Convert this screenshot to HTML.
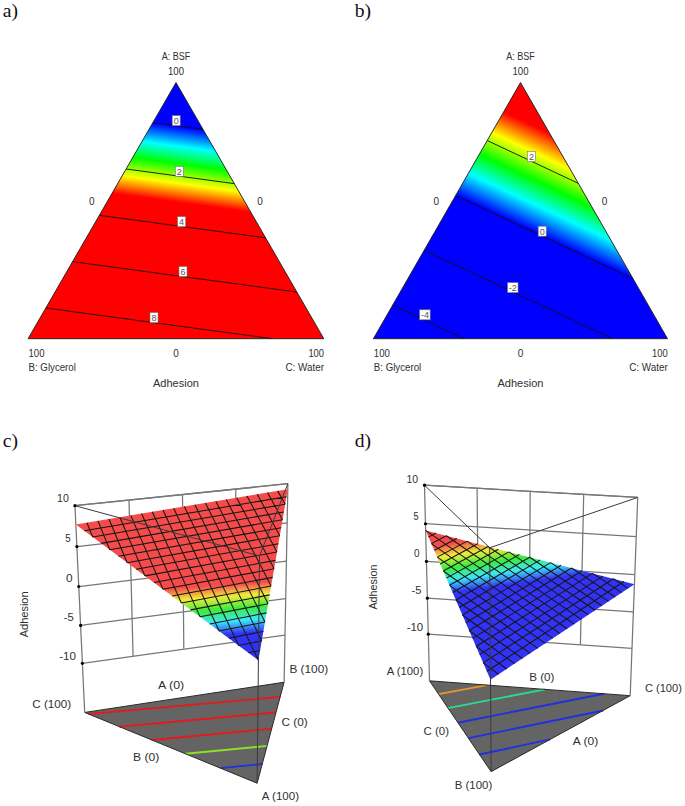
<!DOCTYPE html>
<html><head><meta charset="utf-8"><style>
html,body{margin:0;padding:0;background:#fff;}
svg{display:block;}
text{font-family:"Liberation Sans",sans-serif;fill:#303030;}
.lb{fill:#555;}
.ser{font-family:"Liberation Serif",serif;fill:#111;}
</style></head><body>
<svg width="685" height="806" viewBox="0 0 685 806">
<defs>
<linearGradient id="ga" gradientUnits="userSpaceOnUse" x1="170.18" y1="125.48" x2="160.1" y2="199.81"><stop offset="0" stop-color="#0000ff"/><stop offset="0.26" stop-color="#00ffff"/><stop offset="0.49" stop-color="#00ff00"/><stop offset="0.75" stop-color="#ffff00"/><stop offset="1" stop-color="#ff0000"/></linearGradient>
<linearGradient id="gb" gradientUnits="userSpaceOnUse" x1="465.6" y1="199.37" x2="506.25" y2="112.9"><stop offset="0" stop-color="#0000ff"/><stop offset="0.26" stop-color="#00ffff"/><stop offset="0.49" stop-color="#00ff00"/><stop offset="0.75" stop-color="#ffff00"/><stop offset="1" stop-color="#ff0000"/></linearGradient>
<linearGradient id="gc" gradientUnits="userSpaceOnUse" x1="256.36" y1="632.26" x2="252.68" y2="582.56"><stop offset="0" stop-color="#3232f5"/><stop offset="0.26" stop-color="#3ce8f5"/><stop offset="0.51" stop-color="#3ceb3c"/><stop offset="0.76" stop-color="#f0eb3c"/><stop offset="1" stop-color="#f54b4b"/></linearGradient>
<linearGradient id="gd" gradientUnits="userSpaceOnUse" x1="435" y1="595.27" x2="428.02" y2="546.9"><stop offset="0" stop-color="#3232f5"/><stop offset="0.26" stop-color="#3ce8f5"/><stop offset="0.51" stop-color="#3ceb3c"/><stop offset="0.76" stop-color="#f0eb3c"/><stop offset="1" stop-color="#f54b4b"/></linearGradient>
</defs>
<rect width="685" height="806" fill="#fff"/>
<polygon points="176,82.6 28.1,338.7 323.8,338.7" fill="url(#ga)"/>
<line x1="152.88" y1="122.63" x2="203.03" y2="129.43" stroke="#111" stroke-width="0.9"/>
<line x1="126.12" y1="168.97" x2="234.31" y2="183.64" stroke="#111" stroke-width="0.9"/>
<line x1="99.36" y1="215.31" x2="265.6" y2="237.86" stroke="#111" stroke-width="0.9"/>
<line x1="72.6" y1="261.64" x2="296.89" y2="292.07" stroke="#111" stroke-width="0.9"/>
<line x1="45.84" y1="307.98" x2="272.29" y2="338.7" stroke="#111" stroke-width="0.9"/>
<polygon points="176,82.6 28.1,338.7 323.8,338.7" fill="none" stroke="#222" stroke-width="0.95" stroke-linejoin="miter"/>
<rect x="172.2" y="115.6" width="8" height="10" fill="#fff" stroke="#777" stroke-width="0.6"/>
<text x="176.2" y="124" font-size="9" text-anchor="middle" class="lb">0</text>
<rect x="175.3" y="166.4" width="8" height="10" fill="#fff" stroke="#777" stroke-width="0.6"/>
<text x="179.3" y="174.8" font-size="9" text-anchor="middle" class="lb">2</text>
<rect x="177.6" y="216.7" width="8" height="10" fill="#fff" stroke="#777" stroke-width="0.6"/>
<text x="181.6" y="225.1" font-size="9" text-anchor="middle" class="lb">4</text>
<rect x="179" y="266.5" width="8" height="10" fill="#fff" stroke="#777" stroke-width="0.6"/>
<text x="183" y="274.9" font-size="9" text-anchor="middle" class="lb">6</text>
<rect x="150" y="312.6" width="8" height="10" fill="#fff" stroke="#777" stroke-width="0.6"/>
<text x="154" y="321" font-size="9" text-anchor="middle" class="lb">8</text>
<polygon points="520.5,82.6 373.4,338.7 667.5,338.7" fill="url(#gb)"/>
<line x1="487.22" y1="140.54" x2="578.36" y2="183.39" stroke="#111" stroke-width="0.9"/>
<line x1="455.7" y1="195.41" x2="633.14" y2="278.84" stroke="#111" stroke-width="0.9"/>
<line x1="424.19" y1="250.28" x2="612.24" y2="338.7" stroke="#111" stroke-width="0.9"/>
<line x1="392.67" y1="305.15" x2="464.03" y2="338.7" stroke="#111" stroke-width="0.9"/>
<polygon points="520.5,82.6 373.4,338.7 667.5,338.7" fill="none" stroke="#222" stroke-width="0.95" stroke-linejoin="miter"/>
<rect x="527.4" y="151.5" width="8" height="10" fill="#fff" stroke="#777" stroke-width="0.6"/>
<text x="531.4" y="159.9" font-size="9" text-anchor="middle" class="lb">2</text>
<rect x="538.2" y="226.2" width="8" height="10" fill="#fff" stroke="#777" stroke-width="0.6"/>
<text x="542.2" y="234.6" font-size="9" text-anchor="middle" class="lb">0</text>
<rect x="507.55" y="282.6" width="10.5" height="10" fill="#fff" stroke="#777" stroke-width="0.6"/>
<text x="512.8" y="291" font-size="9" text-anchor="middle" class="lb">-2</text>
<rect x="419.65" y="309.8" width="10.5" height="10" fill="#fff" stroke="#777" stroke-width="0.6"/>
<text x="424.9" y="318.2" font-size="9" text-anchor="middle" class="lb">-4</text>
<text x="176" y="59.6" font-size="10" text-anchor="middle" textLength="28.6" lengthAdjust="spacingAndGlyphs" >A: BSF</text>
<text x="176" y="74.8" font-size="10" text-anchor="middle" textLength="16" lengthAdjust="spacingAndGlyphs" >100</text>
<text x="91.85" y="205.3" font-size="10" text-anchor="middle" >0</text>
<text x="260.15" y="205.3" font-size="10" text-anchor="middle" >0</text>
<text x="28.5" y="357.2" font-size="10" text-anchor="start" textLength="16" lengthAdjust="spacingAndGlyphs" >100</text>
<text x="28.5" y="371" font-size="10" text-anchor="start" textLength="47.4" lengthAdjust="spacingAndGlyphs" >B: Glycerol</text>
<text x="176" y="357.3" font-size="10" text-anchor="middle" >0</text>
<text x="324" y="357.2" font-size="10" text-anchor="end" textLength="15.6" lengthAdjust="spacingAndGlyphs" >100</text>
<text x="324" y="371.3" font-size="10" text-anchor="end" textLength="38.5" lengthAdjust="spacingAndGlyphs" >C: Water</text>
<text x="176" y="387" font-size="11.5" text-anchor="middle" textLength="46" lengthAdjust="spacingAndGlyphs" >Adhesion</text>
<text x="520.5" y="59.6" font-size="10" text-anchor="middle" textLength="28.6" lengthAdjust="spacingAndGlyphs" >A: BSF</text>
<text x="520.5" y="74.8" font-size="10" text-anchor="middle" textLength="16" lengthAdjust="spacingAndGlyphs" >100</text>
<text x="436.35" y="205.3" font-size="10" text-anchor="middle" >0</text>
<text x="604.65" y="205.3" font-size="10" text-anchor="middle" >0</text>
<text x="373.8" y="357.2" font-size="10" text-anchor="start" textLength="16" lengthAdjust="spacingAndGlyphs" >100</text>
<text x="373.8" y="371" font-size="10" text-anchor="start" textLength="47.4" lengthAdjust="spacingAndGlyphs" >B: Glycerol</text>
<text x="520.5" y="357.3" font-size="10" text-anchor="middle" >0</text>
<text x="667.7" y="357.2" font-size="10" text-anchor="end" textLength="15.6" lengthAdjust="spacingAndGlyphs" >100</text>
<text x="667.7" y="371.3" font-size="10" text-anchor="end" textLength="38.5" lengthAdjust="spacingAndGlyphs" >C: Water</text>
<text x="520.5" y="387" font-size="11.5" text-anchor="middle" textLength="46" lengthAdjust="spacingAndGlyphs" >Adhesion</text>
<text x="2.8" y="16.6" font-size="19.6" class="ser">a)</text>
<text x="354.8" y="16.6" font-size="19.6" class="ser">b)</text>
<text x="2.8" y="446.6" font-size="19.6" class="ser">c)</text>
<text x="354.8" y="446.6" font-size="19.6" class="ser">d)</text>
<polygon points="257.12,783.21 284.09,682.23 84.7,712.43" fill="#646464" stroke="none" stroke-width="0"/>
<line x1="262.24" y1="764.05" x2="220.42" y2="768.14" stroke="#2030e0" stroke-width="1.9"/>
<line x1="267.08" y1="745.92" x2="185.33" y2="753.74" stroke="#8ee028" stroke-width="1.9"/>
<line x1="271.67" y1="728.74" x2="151.72" y2="739.94" stroke="#e01c1c" stroke-width="1.9"/>
<line x1="276.02" y1="712.45" x2="119.52" y2="726.72" stroke="#e01c1c" stroke-width="1.9"/>
<line x1="280.16" y1="696.96" x2="88.64" y2="714.04" stroke="#e01c1c" stroke-width="1.9"/>
<polygon points="257.12,783.21 284.09,682.23 84.7,712.43" fill="none" stroke="#2a2a2a" stroke-width="1.0"/>
<line x1="74.95" y1="505.66" x2="287.9" y2="483.71" stroke="#777" stroke-width="1.25"/>
<line x1="76.88" y1="546.6" x2="287.15" y2="522.91" stroke="#777" stroke-width="1.25"/>
<line x1="78.76" y1="586.51" x2="286.41" y2="561.18" stroke="#777" stroke-width="1.25"/>
<line x1="80.6" y1="625.42" x2="285.7" y2="598.53" stroke="#777" stroke-width="1.25"/>
<line x1="82.39" y1="663.37" x2="285" y2="635.02" stroke="#777" stroke-width="1.25"/>
<line x1="129" y1="500.2" x2="133.1" y2="656.4" stroke="#777" stroke-width="1.25"/>
<line x1="182.5" y1="494.9" x2="183.8" y2="648.8" stroke="#777" stroke-width="1.25"/>
<line x1="235.8" y1="489.4" x2="234.4" y2="641.8" stroke="#777" stroke-width="1.25"/>
<line x1="284.09" y1="682.23" x2="287.9" y2="483.71" stroke="#777" stroke-width="1.25"/>
<line x1="84.7" y1="712.43" x2="74.95" y2="505.66" stroke="#777" stroke-width="1.25"/>
<line x1="74.95" y1="505.66" x2="287.9" y2="483.71" stroke="#777" stroke-width="1.25"/>
<polygon points="258.42,660.18 287.79,489.17 75.84,524.54" fill="url(#gc)" stroke="none" stroke-width="0"/>
<path d="M286.5,496.68L84.22,530.76 M285.2,504.28L92.66,537.04 M283.88,511.97L101.18,543.37 M282.54,519.77L109.78,549.75 M281.18,527.68L118.45,556.2 M279.8,535.69L127.2,562.7 M278.41,543.8L136.03,569.25 M277,552.03L144.94,575.87 M275.57,560.37L153.92,582.55 M274.11,568.82L162.99,589.28 M272.64,577.39L172.15,596.08 M271.15,586.07L181.38,602.94 M269.64,594.88L190.7,609.87 M268.1,603.82L200.11,616.85 M266.55,612.88L209.6,623.91 M264.97,622.07L219.18,631.03 M263.37,631.39L228.86,638.21 M261.74,640.84L238.62,645.46 M260.1,650.44L248.47,652.78 M277.65,490.87L285.2,504.28 M267.47,492.57L282.54,519.77 M257.23,494.27L279.8,535.69 M246.96,495.99L277,552.03 M236.63,497.71L274.11,568.82 M226.26,499.44L271.15,586.07 M215.83,501.18L268.1,603.82 M205.36,502.93L264.97,622.07 M194.85,504.68L261.74,640.84 M184.28,506.45L258.42,660.18 M173.66,508.22L238.62,645.46 M163,510L219.18,631.03 M152.28,511.79L200.11,616.85 M141.52,513.58L181.38,602.94 M130.7,515.39L162.99,589.28 M119.83,517.2L144.94,575.87 M108.91,519.03L127.2,562.7 M97.94,520.86L109.78,549.75 M86.92,522.7L92.66,537.04" stroke="#161616" stroke-width="1.05" fill="none"/>
<line x1="257.12" y1="783.21" x2="259.53" y2="555.94" stroke="#3a3a3a" stroke-width="1.0"/>
<line x1="74.95" y1="505.66" x2="259.53" y2="555.94" stroke="#3a3a3a" stroke-width="1.0"/>
<line x1="287.9" y1="483.71" x2="259.53" y2="555.94" stroke="#3a3a3a" stroke-width="1.0"/>
<circle cx="74.95" cy="505.66" r="1.6" fill="#000"/>
<circle cx="76.88" cy="546.6" r="1.6" fill="#000"/>
<circle cx="78.76" cy="586.51" r="1.6" fill="#000"/>
<circle cx="80.6" cy="625.42" r="1.6" fill="#000"/>
<circle cx="82.39" cy="663.37" r="1.6" fill="#000"/>
<polygon points="429.5,680.81 491.11,771.63 630.2,695.68" fill="#646464" stroke="none" stroke-width="0"/>
<line x1="479.45" y1="754.46" x2="550.14" y2="739.4" stroke="#2030e0" stroke-width="1.9"/>
<line x1="468.41" y1="738.18" x2="603.1" y2="710.48" stroke="#2030e0" stroke-width="1.9"/>
<line x1="457.94" y1="722.74" x2="603.89" y2="693.73" stroke="#2030e0" stroke-width="1.9"/>
<line x1="447.98" y1="708.07" x2="545.19" y2="689.38" stroke="#28dc90" stroke-width="1.9"/>
<line x1="438.52" y1="694.11" x2="487.06" y2="685.08" stroke="#eb9628" stroke-width="1.9"/>
<polygon points="429.5,680.81 491.11,771.63 630.2,695.68" fill="none" stroke="#2a2a2a" stroke-width="1.0"/>
<line x1="424.48" y1="485.21" x2="637.73" y2="497.46" stroke="#777" stroke-width="1.25"/>
<line x1="425.47" y1="523.73" x2="636.25" y2="536.53" stroke="#777" stroke-width="1.25"/>
<line x1="426.43" y1="561.38" x2="634.8" y2="574.7" stroke="#777" stroke-width="1.25"/>
<line x1="427.38" y1="598.18" x2="633.38" y2="611.99" stroke="#777" stroke-width="1.25"/>
<line x1="428.3" y1="634.17" x2="632" y2="648.45" stroke="#777" stroke-width="1.25"/>
<line x1="478.57" y1="637.69" x2="477.08" y2="488.23" stroke="#777" stroke-width="1.25"/>
<line x1="529.27" y1="641.25" x2="530.15" y2="491.28" stroke="#777" stroke-width="1.25"/>
<line x1="580.41" y1="644.83" x2="583.69" y2="494.36" stroke="#777" stroke-width="1.25"/>
<line x1="429.5" y1="680.81" x2="424.48" y2="485.21" stroke="#777" stroke-width="1.25"/>
<line x1="630.2" y1="695.68" x2="637.73" y2="497.46" stroke="#777" stroke-width="1.25"/>
<line x1="424.48" y1="485.21" x2="637.73" y2="497.46" stroke="#777" stroke-width="1.25"/>
<polygon points="425.64,530.42 490.52,679.7 634.44,584.18" fill="url(#gd)" stroke="none" stroke-width="0"/>
<path d="M486.83,671.21L623.94,581.48 M483.19,662.83L613.46,578.78 M479.6,654.58L602.98,576.08 M476.07,646.44L592.5,573.38 M472.58,638.42L582.03,570.68 M469.14,630.52L571.57,567.99 M465.75,622.72L561.11,565.3 M462.41,615.03L550.65,562.61 M459.12,607.44L540.2,559.92 M455.86,599.96L529.76,557.23 M452.66,592.58L519.32,554.54 M449.49,585.31L508.89,551.85 M446.37,578.12L498.47,549.17 M443.29,571.04L488.05,546.49 M440.25,564.04L477.63,543.81 M437.25,557.14L467.22,541.13 M434.29,550.33L456.82,538.45 M431.37,543.61L446.42,535.77 M428.49,536.97L436.03,533.09 M498.67,674.29L483.19,662.83 M506.71,668.96L476.07,646.44 M514.63,663.7L469.14,630.52 M522.45,658.51L462.41,615.03 M530.16,653.39L455.86,599.96 M537.77,648.34L449.49,585.31 M545.28,643.36L443.29,571.04 M552.68,638.44L437.25,557.14 M559.99,633.59L431.37,543.61 M567.2,628.8L425.64,530.42 M574.32,624.08L446.42,535.77 M581.35,619.42L467.22,541.13 M588.28,614.81L488.05,546.49 M595.13,610.27L508.89,551.85 M601.89,605.78L529.76,557.23 M608.56,601.35L550.65,562.61 M615.15,596.98L571.57,567.99 M621.66,592.66L592.5,573.38 M628.09,588.39L613.46,578.78" stroke="#161616" stroke-width="1.05" fill="none"/>
<line x1="491.11" y1="771.63" x2="489.68" y2="547.77" stroke="#3a3a3a" stroke-width="1.0"/>
<line x1="424.48" y1="485.21" x2="489.68" y2="547.77" stroke="#3a3a3a" stroke-width="1.0"/>
<line x1="637.73" y1="497.46" x2="489.68" y2="547.77" stroke="#3a3a3a" stroke-width="1.0"/>
<circle cx="424.48" cy="485.21" r="1.6" fill="#000"/>
<circle cx="425.47" cy="523.73" r="1.6" fill="#000"/>
<circle cx="426.43" cy="561.38" r="1.6" fill="#000"/>
<circle cx="427.38" cy="598.18" r="1.6" fill="#000"/>
<circle cx="428.3" cy="634.17" r="1.6" fill="#000"/>
<text x="57.1" y="502.4" font-size="11" text-anchor="start" textLength="11.8" lengthAdjust="spacingAndGlyphs" >10</text>
<text x="65.2" y="542.3" font-size="11" text-anchor="start" textLength="5.5" lengthAdjust="spacingAndGlyphs" >5</text>
<text x="65.9" y="581.6" font-size="11" text-anchor="start" textLength="6.6" lengthAdjust="spacingAndGlyphs" >0</text>
<text x="63.7" y="621" font-size="11" text-anchor="start" textLength="10" lengthAdjust="spacingAndGlyphs" >-5</text>
<text x="59.2" y="660.4" font-size="11" text-anchor="start" textLength="16.7" lengthAdjust="spacingAndGlyphs" >-10</text>
<text x="158" y="689.3" font-size="11" text-anchor="start" textLength="26.2" lengthAdjust="spacingAndGlyphs" >A (0)</text>
<text x="289.4" y="672.6" font-size="11" text-anchor="start" textLength="38.8" lengthAdjust="spacingAndGlyphs" >B (100)</text>
<text x="32.3" y="707.9" font-size="11" text-anchor="start" textLength="38.9" lengthAdjust="spacingAndGlyphs" >C (100)</text>
<text x="281.5" y="726" font-size="11" text-anchor="start" textLength="26.3" lengthAdjust="spacingAndGlyphs" >C (0)</text>
<text x="133" y="761.3" font-size="11" text-anchor="start" textLength="26.3" lengthAdjust="spacingAndGlyphs" >B (0)</text>
<text x="261.8" y="799.8" font-size="11" text-anchor="start" textLength="37.2" lengthAdjust="spacingAndGlyphs" >A (100)</text>
<text x="406.4" y="482.6" font-size="11" text-anchor="start" textLength="11.6" lengthAdjust="spacingAndGlyphs" >10</text>
<text x="413.4" y="519.6" font-size="11" text-anchor="start" textLength="5.1" lengthAdjust="spacingAndGlyphs" >5</text>
<text x="414.1" y="557" font-size="11" text-anchor="start" textLength="5.5" lengthAdjust="spacingAndGlyphs" >0</text>
<text x="411.5" y="594" font-size="11" text-anchor="start" textLength="9.8" lengthAdjust="spacingAndGlyphs" >-5</text>
<text x="406.7" y="631.2" font-size="11" text-anchor="start" textLength="16.5" lengthAdjust="spacingAndGlyphs" >-10</text>
<text x="386.7" y="674.6" font-size="11" text-anchor="start" textLength="36.5" lengthAdjust="spacingAndGlyphs" >A (100)</text>
<text x="529.2" y="681.1" font-size="11" text-anchor="start" textLength="25.3" lengthAdjust="spacingAndGlyphs" >B (0)</text>
<text x="644.9" y="692.4" font-size="11" text-anchor="start" textLength="37" lengthAdjust="spacingAndGlyphs" >C (100)</text>
<text x="423.6" y="734.5" font-size="11" text-anchor="start" textLength="25.4" lengthAdjust="spacingAndGlyphs" >C (0)</text>
<text x="572.8" y="744.7" font-size="11" text-anchor="start" textLength="25.4" lengthAdjust="spacingAndGlyphs" >A (0)</text>
<text x="454.8" y="789.3" font-size="11" text-anchor="start" textLength="37.4" lengthAdjust="spacingAndGlyphs" >B (100)</text>
<text x="27.8" y="614.35" font-size="11" text-anchor="middle" textLength="46" lengthAdjust="spacingAndGlyphs" transform="rotate(-90 27.8 614.35)">Adhesion</text>
<text x="377" y="587.1" font-size="11" text-anchor="middle" textLength="45" lengthAdjust="spacingAndGlyphs" transform="rotate(-90 377 587.1)">Adhesion</text>
</svg>
</body></html>
